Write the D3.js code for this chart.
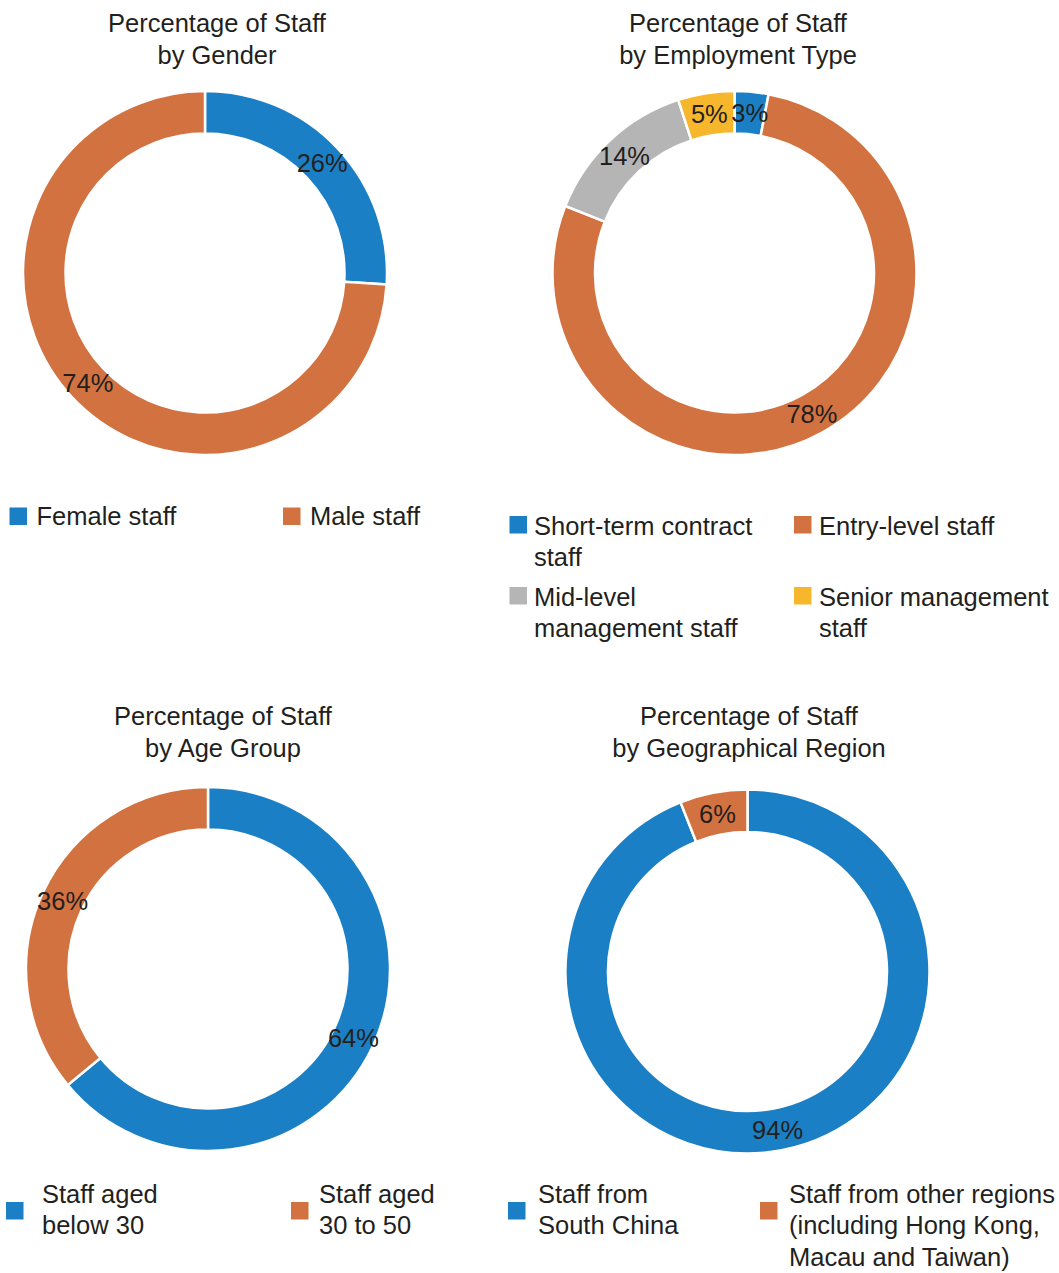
<!DOCTYPE html>
<html>
<head>
<meta charset="utf-8">
<script src="https://cdn.jsdelivr.net/npm/d3@7"></script>
<style>
  html, body { margin: 0; padding: 0; background: #fff; }
  svg text { font-family: "Liberation Sans", Arial, Helvetica, sans-serif; fill: #231f20; }
</style>
</head>
<body>
<svg id="chart" width="1059" height="1273"></svg>
<script>
// ---- Data ----
const genderCategories = ["Female staff", "Male staff"];
const genderValues = [26, 74];

const employmentCategories = ["Short-term contract\nstaff", "Entry-level staff", "Mid-level\nmanagement staff", "Senior management\nstaff"];
const employmentValues = [3, 78, 14, 5];

const ageCategories = ["Staff aged\nbelow 30", "Staff aged\n30 to 50"];
const ageValues = [64, 36];

const regionCategories = ["Staff from\nSouth China", "Staff from other regions\n(including Hong Kong,\nMacau and Taiwan)"];
const regionValues = [94, 6];

const titles = [
  ["Percentage of Staff", "by Gender"],
  ["Percentage of Staff", "by Employment Type"],
  ["Percentage of Staff", "by Age Group"],
  ["Percentage of Staff", "by Geographical Region"]
];

// ---- Styles / layout ----
const BLUE = "#1a7fc4", ORANGE = "#d27240", GREY = "#b5b5b5", YELLOW = "#f7b72d";
const FONT = 25.5, LINE = 31.3, SQ = 17.5;
const R_OUT = 182, R_IN = 139.5;

const charts = [
  { cats: genderCategories, vals: genderValues, colors: [BLUE, ORANGE], title: titles[0],
    cx: 205, cy: 273, tx: 217, ty: 32,
    legend: [ {sx: 9.5, tx: 36.5, sy: 507.5, by: 524.5}, {sx: 283, tx: 310, sy: 507.5, by: 524.5} ] },
  { cats: employmentCategories, vals: employmentValues, colors: [BLUE, ORANGE, GREY, YELLOW], title: titles[1],
    cx: 734.5, cy: 273, tx: 738, ty: 32,
    legend: [ {sx: 509.5, tx: 534, sy: 516, by: 535}, {sx: 794, tx: 819, sy: 516, by: 535},
              {sx: 509.5, tx: 534, sy: 587, by: 606}, {sx: 794, tx: 819, sy: 587, by: 606} ] },
  { cats: ageCategories, vals: ageValues, colors: [BLUE, ORANGE], title: titles[2],
    cx: 208, cy: 969, tx: 223, ty: 725,
    legend: [ {sx: 6, tx: 42, sy: 1202, by: 1203}, {sx: 291, tx: 319, sy: 1202, by: 1203} ] },
  { cats: regionCategories, vals: regionValues, colors: [BLUE, ORANGE], title: titles[3],
    cx: 747.5, cy: 971.5, tx: 749, ty: 725,
    legend: [ {sx: 508, tx: 538, sy: 1202, by: 1203}, {sx: 760, tx: 789, sy: 1202, by: 1203} ] }
];

const svg = d3.select("#chart");
const pie = d3.pie().sort(null).value(d => d);
const arc = d3.arc().innerRadius(R_IN).outerRadius(R_OUT);

charts.forEach(c => {
  const g = svg.append("g");
  // title
  const t = g.append("text").attr("x", c.tx).attr("y", c.ty)
    .attr("text-anchor", "middle").style("font-size", FONT + "px");
  c.title.forEach((line, i) => {
    t.append("tspan").attr("x", c.tx).attr("dy", i === 0 ? 0 : 32).text(line);
  });

  const color = d3.scaleOrdinal().domain(c.cats).range(c.colors);
  const arcs = pie(c.vals);
  const donut = g.append("g").attr("transform", `translate(${c.cx},${c.cy})`);
  donut.selectAll("path").data(arcs).join("path")
    .attr("d", arc)
    .attr("fill", (d, i) => color(c.cats[i]))
    .attr("stroke", "#fff")
    .attr("stroke-width", 2.5);
  donut.selectAll("text").data(arcs).join("text")
    .attr("transform", d => `translate(${arc.centroid(d)})`)
    .attr("text-anchor", "middle")
    .attr("dy", "0.36em")
    .style("font-size", FONT + "px")
    .text(d => d.data + "%");

  // legend
  c.cats.forEach((cat, i) => {
    const L = c.legend[i];
    g.append("rect").attr("x", L.sx).attr("y", L.sy).attr("width", SQ).attr("height", SQ)
      .attr("fill", color(cat));
    const lt = g.append("text").attr("x", L.tx).attr("y", L.by).style("font-size", FONT + "px");
    cat.split("\n").forEach((line, j) => {
      lt.append("tspan").attr("x", L.tx).attr("dy", j === 0 ? 0 : LINE).text(line);
    });
  });
});
</script>
</body>
</html>
